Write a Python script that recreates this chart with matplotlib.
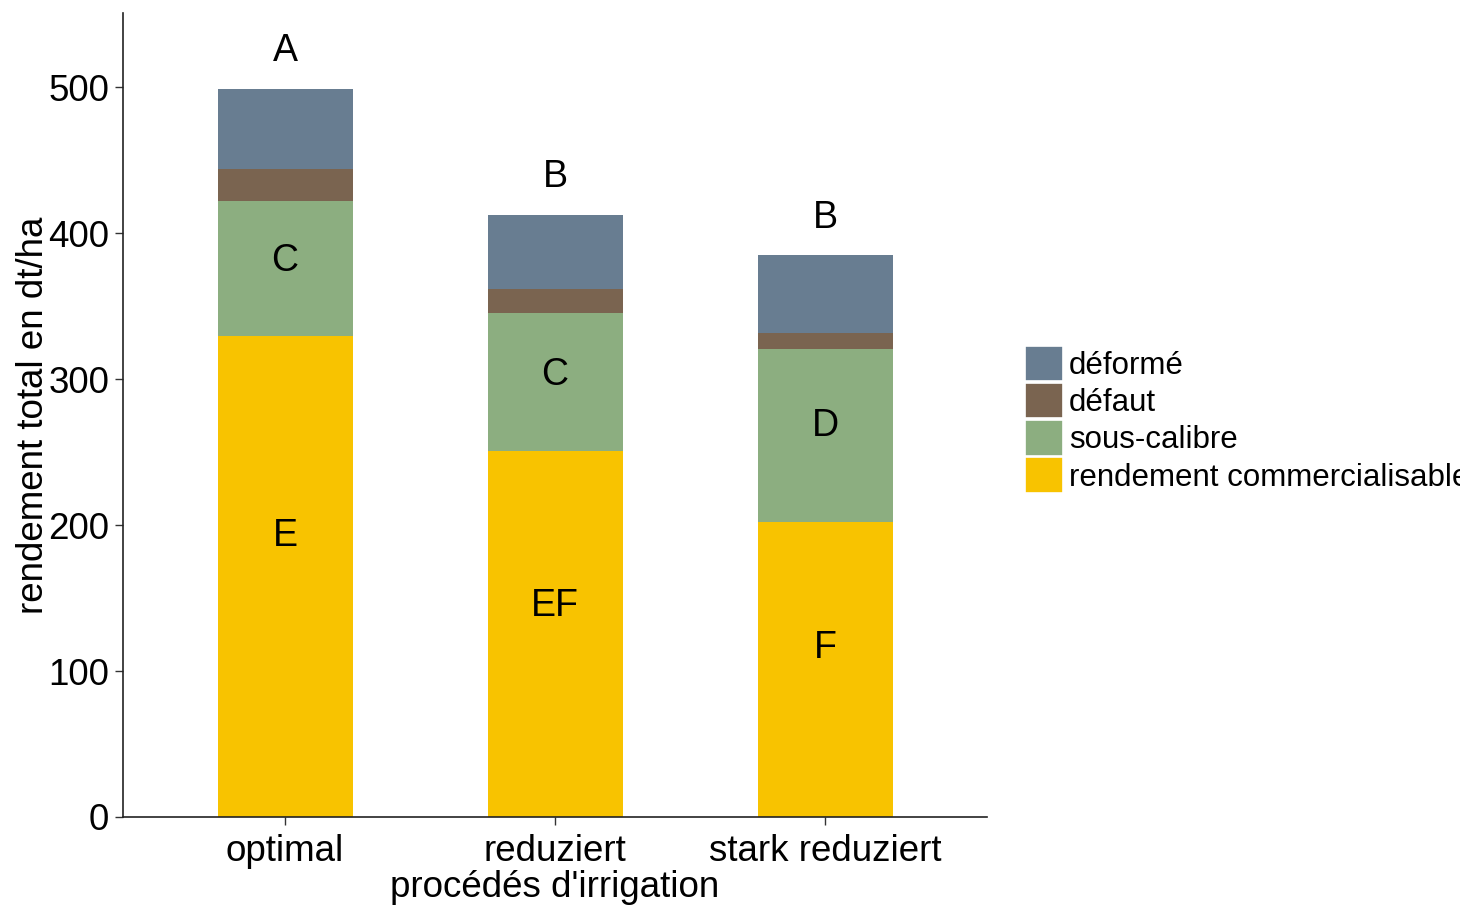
import matplotlib
matplotlib.use("Agg")
import matplotlib.pyplot as plt
import numpy as np

plt.rcParams['font.family'] = ['Liberation Sans', 'DejaVu Sans']

# Irrigation procedures and yield components (dt/ha)
procedes = ['optimal', 'reduziert', 'stark reduziert']
commercialisable = [329.5, 250.9, 202.1]
sous_calibre = [92.4, 94.3, 118.4]
defaut = [21.7, 16.7, 10.8]
deforme = [55.0, 50.2, 53.6]

# Significance letters: group letters above bars and inside segments
lettres_total = ['A', 'B', 'B']
lettres_total_y = [524.5, 438.5, 410.5]
lettres_sous = ['C', 'C', 'D']
lettres_sous_y = [380.5, 303, 268]
lettres_comm = ['E', 'EF', 'F']
lettres_comm_y = [192.5, 144.5, 116]

couleurs = {
    'rendement commercialisable': '#F8C300',
    'sous-calibre': '#8CAE80',
    'défaut': '#7A6450',
    'déformé': '#687D91',
}

fig = plt.figure(figsize=(14.6, 9.08), dpi=100)
ax = fig.add_axes([123 / 1460, 91 / 908, (987 - 123) / 1460, (817 - 13) / 908])

x = np.arange(1, len(procedes) + 1)
bottom = np.zeros(len(procedes))
for nom, vals in [('rendement commercialisable', commercialisable),
                  ('sous-calibre', sous_calibre),
                  ('défaut', defaut),
                  ('déformé', deforme)]:
    ax.bar(x, vals, width=0.5, bottom=bottom, color=couleurs[nom],
           edgecolor='none', linewidth=0)
    bottom += np.array(vals)

fs = 26.5
for lettres, ys in [(lettres_total, lettres_total_y),
                    (lettres_sous, lettres_sous_y),
                    (lettres_comm, lettres_comm_y)]:
    for xi, t, y in zip(x, lettres, ys):
        ax.text(xi, y, t, ha='center', va='center', fontsize=27)

ax.set_xlim(0.4, 3.6)
ax.set_ylim(0, 550.7)
ax.set_xticks(x)
ax.set_xticklabels(procedes)
ax.set_yticks([0, 100, 200, 300, 400, 500])
ax.tick_params(axis='both', labelsize=fs, length=6, width=1, color='#333333',
               labelcolor='black')
ax.tick_params(axis='x', pad=6)
ax.tick_params(axis='y', pad=4)
ax.set_xlabel("procédés d'irrigation", fontsize=fs, labelpad=1)
ax.set_ylabel('rendement total en dt/ha', fontsize=fs, labelpad=-2)

for s in ['top', 'right']:
    ax.spines[s].set_visible(False)
for s in ['left', 'bottom']:
    ax.spines[s].set_color('#222222')
    ax.spines[s].set_linewidth(1.2)

order = ['déformé', 'défaut', 'sous-calibre', 'rendement commercialisable']
leg_handles = [plt.Rectangle((0, 0), 1, 1, facecolor=couleurs[n],
                             edgecolor='white', linewidth=1.2) for n in order]
fig.legend(leg_handles, order, loc='upper left',
           bbox_to_anchor=(1025 / 1460, 1 - 346 / 908),
           frameon=False, fontsize=22.5, handlelength=1.2, handleheight=1.36,
           handletextpad=0.2, labelspacing=0.06, borderpad=0, borderaxespad=0)

fig.savefig('out.png', dpi=100)
